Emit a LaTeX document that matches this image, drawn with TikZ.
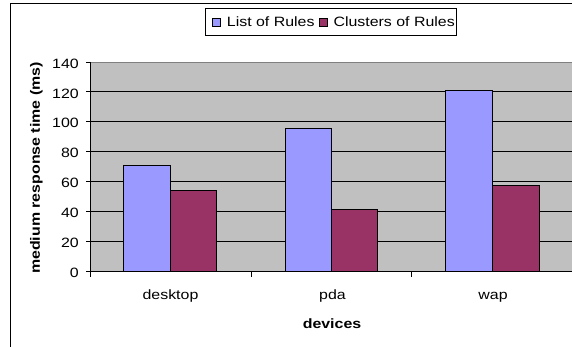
\documentclass[tikz,border=0pt]{standalone}
\usepackage{fontspec}
\newfontfamily\chartfont[FakeStretch=1.18]{Liberation Sans}
\usepackage{tikz}
\usetikzlibrary{positioning}

\definecolor{ListBlue}{RGB}{153,153,255}
\definecolor{ClusterRed}{RGB}{153,51,102}
\definecolor{PlotGray}{RGB}{192,192,192}
\definecolor{BorderGray}{RGB}{128,128,128}

\begin{document}
\begin{tikzpicture}[x=1pt, y=-1pt, font=\chartfont\fontsize{13.5}{15}\selectfont]
		\tikzstyle{Label}	= [inner sep=0pt]
		\tikzstyle{Tick}	= [Label, anchor=east]
		\tikzstyle{Title}	= [Label, font=\chartfont\fontsize{13.5}{15}\selectfont\bfseries]
		\tikzstyle{Bar}		= [draw=black, line width=0.8pt]
		\tikzstyle{LR}		= [Bar, fill=ListBlue]
		\tikzstyle{CR}		= [Bar, fill=ClusterRed]
		\tikzstyle{Grid}	= [black, line width=0.8pt]
		\tikzstyle{Swatch}	= [draw=black, line width=0.6pt, minimum size=8.3pt, inner sep=0pt]
		
		\useasboundingbox (0,0) rectangle (572,347);
		\clip (0,0) rectangle (572,347);
		\fill [white] (0,0) rectangle (572,347);
		
		% chart frame
		\draw [black, line width=1pt] (10.3,360) -- (10.3,4) -- (590,4);
		
		% plot area
		\fill [PlotGray] (90,62) rectangle (590,271);
		\draw [-] (90,241.14) to (590,241.14) [Grid];
		\draw [-] (90,211.29) to (590,211.29) [Grid];
		\draw [-] (90,181.43) to (590,181.43) [Grid];
		\draw [-] (90,151.57) to (590,151.57) [Grid];
		\draw [-] (90,121.71) to (590,121.71) [Grid];
		\draw [-] (90,91.86) to (590,91.86) [Grid];
		\draw [BorderGray, line width=0.8pt] (90,62) rectangle (590,271);
		
		% bars
		\draw [LR] (123.5,271) rectangle (170.1,165.8);
		\draw [CR] (170.1,271) rectangle (216.8,190.4);
		\draw [LR] (285,271) rectangle (331.6,128.7);
		\draw [CR] (331.6,271) rectangle (377.4,209.7);
		\draw [LR] (445.7,271) rectangle (492.3,90.3);
		\draw [CR] (492.3,271) rectangle (539,185.3);
		
		% axes
		\draw [black, line width=0.9pt] (90,62) -- (90,271) -- (590,271);
		\draw [-] (86,271) to (90,271) [Grid];
		\draw [-] (86,241.14) to (90,241.14) [Grid];
		\draw [-] (86,211.29) to (90,211.29) [Grid];
		\draw [-] (86,181.43) to (90,181.43) [Grid];
		\draw [-] (86,151.57) to (90,151.57) [Grid];
		\draw [-] (86,121.71) to (90,121.71) [Grid];
		\draw [-] (86,91.86) to (90,91.86) [Grid];
		\draw [-] (86,62) to (90,62) [Grid];
		\draw [-] (90,271) to (90,277) [Grid];
		\draw [-] (251.3,271) to (251.3,277) [Grid];
		\draw [-] (411.7,271) to (411.7,277) [Grid];
		
		% tick labels
		\node (y0)   at (79,272.5)   [Tick] {0};
		\node (y20)  at (79,242.6)   [Tick] {20};
		\node (y40)  at (79,212.8)   [Tick] {40};
		\node (y60)  at (79,182.9)   [Tick] {60};
		\node (y80)  at (79,153.1)   [Tick] {80};
		\node (y100) at (79,123.2)   [Tick] {100};
		\node (y120) at (79,93.4)    [Tick] {120};
		\node (y140) at (79,63.5)    [Tick] {140};
		
		\node (desktop) at (170.5,299.3) [Label, anchor=base] {desktop};
		\node (pda)     at (332.5,299.3) [Label, anchor=base] {pda};
		\node (wap)     at (493,299.3)   [Label, anchor=base] {wap};
		
		% axis titles
		\node (devices) at (332,328) [Title, anchor=base] {devices};
		\node (time)    at (36.5,168) [Title, rotate=90] {medium response time (ms)};
		
		% legend
		\node (legend) at (330.85,21.85) [draw=black, line width=0.8pt, fill=white, minimum width=250.3pt, minimum height=27.7pt] {};
		\node (swList)    at (216,22.3)   [Swatch, fill=ListBlue] {};
		\node (swCluster) at (323.5,22.3) [Swatch, fill=ClusterRed] {};
		\node (lbList)    at (226.7,26.7) [Label, anchor=base west] {List of Rules};
		\node (lbCluster) at (333.3,26.7) [Label, anchor=base west] {Clusters of Rules};
	\end{tikzpicture}
\end{document}
